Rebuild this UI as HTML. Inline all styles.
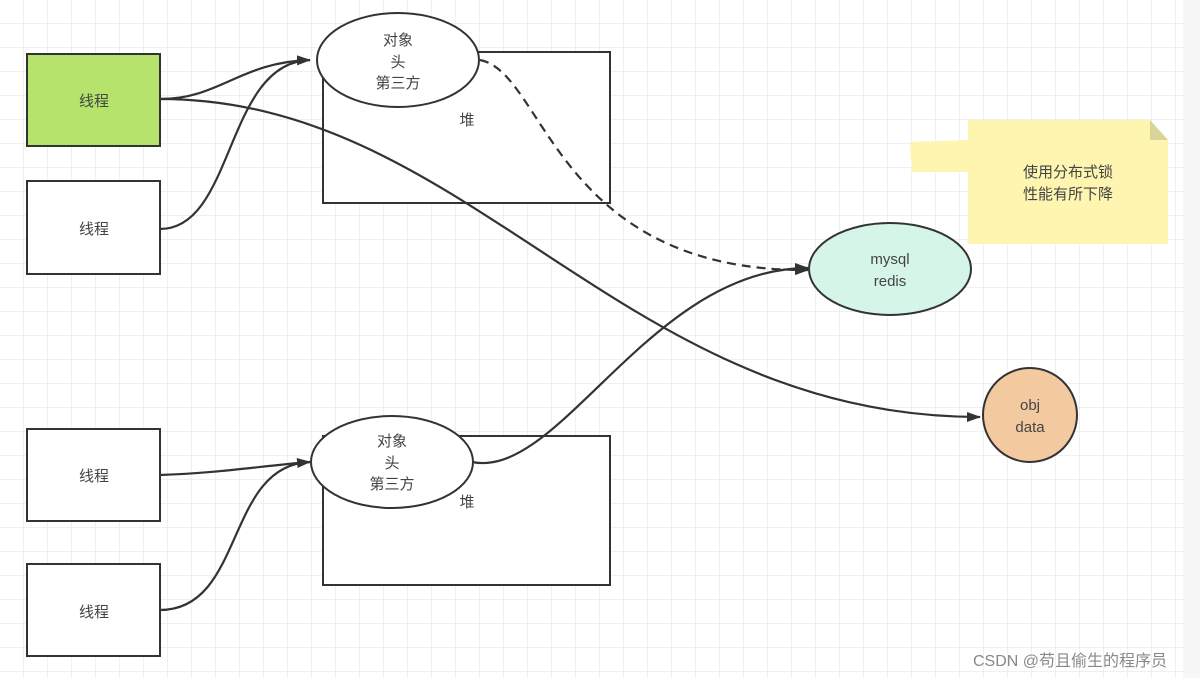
<!DOCTYPE html>
<html><head><meta charset="utf-8"><style>
html,body{margin:0;padding:0;width:1200px;height:678px;overflow:hidden;background:#fff;}
svg{display:block}
text{font-family:"Liberation Sans","Noto Sans CJK SC",sans-serif;fill:#444;font-size:15px;text-anchor:middle}
</style></head><body>
<svg width="1200" height="678" viewBox="0 0 1200 678">
<defs>
<pattern id="g" width="24" height="24" patternUnits="userSpaceOnUse">
<path d="M24 0V24M0 24H24" fill="none" stroke="#e2e2e2" stroke-width="1"/>
</pattern>
<marker id="a" markerWidth="14" markerHeight="12" refX="13" refY="6" orient="auto" markerUnits="userSpaceOnUse">
<path d="M0,1 L14,6 L0,11 z" fill="#333"/>
</marker>
</defs>
<rect width="1200" height="678" fill="url(#g)"/>
<rect x="1183" y="0" width="17" height="678" fill="#f7f7f7"/>

<rect x="323" y="52" width="287" height="151" fill="#fff" stroke="#333" stroke-width="2"/>
<rect x="323" y="436" width="287" height="149" fill="#fff" stroke="#333" stroke-width="2"/>
<text x="467" y="125">堆</text>
<text x="467" y="507">堆</text>

<rect x="27" y="54" width="133" height="92" fill="#b5e36c" stroke="#333" stroke-width="2"/>
<rect x="27" y="181" width="133" height="93" fill="#fff" stroke="#333" stroke-width="2"/>
<rect x="27" y="429" width="133" height="92" fill="#fff" stroke="#333" stroke-width="2"/>
<rect x="27" y="564" width="133" height="92" fill="#fff" stroke="#333" stroke-width="2"/>
<text x="94" y="106">线程</text>
<text x="94" y="234">线程</text>
<text x="94" y="481">线程</text>
<text x="94" y="617">线程</text>

<g fill="none" stroke="#333" stroke-width="2.2">
<path d="M160,99 C220,99 240,62 310,60" marker-end="url(#a)"/>
<path d="M160,229 C235,229 225,62 310,60"/>
<path d="M160,99 C470,99 620,417 980,417" marker-end="url(#a)"/>
<path d="M480,60 C545,72 555,272 808,270" stroke-dasharray="9,6" marker-end="url(#a)"/>
<path d="M472,462 C560,480 650,268 808,268" marker-end="url(#a)"/>
<path d="M160,475 C220,473 260,466 310,462" marker-end="url(#a)"/>
<path d="M160,610 C245,610 225,465 310,462"/>
</g>

<ellipse cx="398" cy="60" rx="81" ry="47" fill="#fff" stroke="#333" stroke-width="2"/>
<text x="398" y="45">对象</text>
<text x="398" y="67">头</text>
<text x="398" y="88">第三方</text>
<ellipse cx="392" cy="462" rx="81" ry="46" fill="#fff" stroke="#333" stroke-width="2"/>
<text x="392" y="446">对象</text>
<text x="392" y="468">头</text>
<text x="392" y="489">第三方</text>

<ellipse cx="890" cy="269" rx="81" ry="46" fill="#d4f5e8" stroke="#333" stroke-width="2"/>
<text x="890" y="264">mysql</text>
<text x="890" y="286">redis</text>

<circle cx="1030" cy="415" r="47" fill="#f3c9a0" stroke="#333" stroke-width="2"/>
<text x="1030" y="410">obj</text>
<text x="1030" y="432">data</text>

<path d="M910,142 L970,140 L970,172 L912,172 z" fill="#fdf5b0"/>
<path d="M968,120 L1150,120 L1168,140 L1168,244 L968,244 z" fill="#fdf5b0"/>
<path d="M1150,120 L1168,140 L1150,140 z" fill="#d8d49a"/>
<text x="1068" y="177" style="font-size:15px">使用分布式锁</text>
<text x="1068" y="199" style="font-size:15px">性能有所下降</text>

<text x="1070" y="666" style="font-size:16px;fill:#888;text-anchor:middle">CSDN @苟且偷生的程序员</text>
</svg>
</body></html>
